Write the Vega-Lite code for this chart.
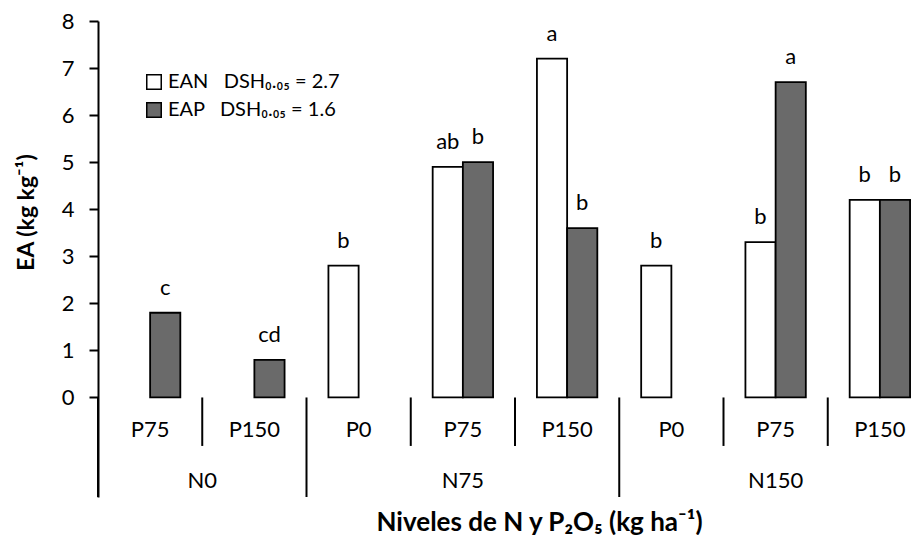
{
  "$schema": "https://vega.github.io/schema/vega-lite/v6.json",
  "autosize": {"type": "none"},
  "padding": {"left": 98, "top": 21, "right": 0, "bottom": 38},
  "width": 824,
  "height": 476,
  "background": "white",
  "config": {
    "view": {"stroke": null},
    "font": "Lato",
    "text": {"font": "Lato", "color": "black"}
  },
  "datasets": {
    "barras": [
      {"grupo": "N0-P75", "serie": "EAP", "valor": 1.8, "letra": "c"},
      {"grupo": "N0-P150", "serie": "EAP", "valor": 0.8, "letra": "cd"},
      {"grupo": "N75-P0", "serie": "EAN", "valor": 2.8, "letra": "b"},
      {"grupo": "N75-P75", "serie": "EAN", "valor": 4.9, "letra": "ab"},
      {"grupo": "N75-P75", "serie": "EAP", "valor": 5.0, "letra": "b"},
      {"grupo": "N75-P150", "serie": "EAN", "valor": 7.2, "letra": "a"},
      {"grupo": "N75-P150", "serie": "EAP", "valor": 3.6, "letra": "b"},
      {"grupo": "N150-P0", "serie": "EAN", "valor": 2.8, "letra": "b"},
      {"grupo": "N150-P75", "serie": "EAN", "valor": 3.3, "letra": "b"},
      {"grupo": "N150-P75", "serie": "EAP", "valor": 6.7, "letra": "a"},
      {"grupo": "N150-P150", "serie": "EAN", "valor": 4.2, "letra": "b"},
      {"grupo": "N150-P150", "serie": "EAP", "valor": 4.2, "letra": "b"}
    ],
    "grupos": [
      {"grupo": "N0-P75", "N": "N0", "P": "P75", "inicioN": true},
      {"grupo": "N0-P150", "N": "N0", "P": "P150", "inicioN": false},
      {"grupo": "N75-P0", "N": "N75", "P": "P0", "inicioN": true},
      {"grupo": "N75-P75", "N": "N75", "P": "P75", "inicioN": false},
      {"grupo": "N75-P150", "N": "N75", "P": "P150", "inicioN": false},
      {"grupo": "N150-P0", "N": "N150", "P": "P0", "inicioN": true},
      {"grupo": "N150-P75", "N": "N150", "P": "P75", "inicioN": false},
      {"grupo": "N150-P150", "N": "N150", "P": "P150", "inicioN": false}
    ],
    "etiquetasN": [
      {"N": "N0", "grupo": "N0-P150", "borde": true},
      {"N": "N75", "grupo": "N75-P75", "borde": false},
      {"N": "N150", "grupo": "N150-P75", "borde": false}
    ]
  },
  "layer": [
    {
      "data": {"name": "barras"},
      "mark": {"type": "bar", "stroke": "black", "strokeWidth": 1.8},
      "encoding": {
        "x": {
          "field": "grupo", "type": "nominal",
          "scale": {"type": "band", "domain": ["N0-P75", "N0-P150", "N75-P0", "N75-P75", "N75-P150", "N150-P0", "N150-P75", "N150-P150"], "range": [0, 834], "paddingInner": 0, "paddingOuter": 0},
          "axis": {"labels": false, "ticks": false, "domain": false, "title": "Niveles de N y P₂O₅ (kg ha⁻¹)", "titleX": 441, "titleY": 25, "titleBaseline": "middle", "titleFont": "Lato", "titleFontSize": 26, "titleFontWeight": "bold", "titleColor": "black"}
        },
        "xOffset": {
          "field": "serie", "type": "nominal",
          "scale": {"domain": ["EAN", "EAP"], "paddingInner": 0, "paddingOuter": 0.726}
        },
        "y": {
          "field": "valor", "type": "quantitative",
          "scale": {"domain": [-2.115, 8], "nice": false, "zero": false},
          "axis": {"values": [0, 1, 2, 3, 4, 5, 6, 7, 8], "grid": false, "tickSize": 9, "tickWidth": 2, "tickColor": "black", "domainColor": "black", "domainWidth": 2, "labelPadding": 15, "labelFont": "Lato", "labelFontSize": 22, "labelColor": "black", "title": "EA (kg kg⁻¹)", "titleX": -72, "titleY": 191, "titleBaseline": "middle", "titleAlign": "center", "titleFont": "Lato", "titleFontSize": 23, "titleFontWeight": "bold", "titleColor": "black"}
        },
        "fill": {
          "field": "serie", "type": "nominal",
          "scale": {"domain": ["EAN", "EAP"], "range": ["white", "#6a6a6a"]},
          "legend": {
            "orient": "none", "legendX": 46, "legendY": 51, "title": null, "padding": 0,
            "symbolType": "square", "symbolSize": 210, "symbolStrokeColor": "black", "symbolStrokeWidth": 1.5,
            "labelFont": "Lato", "labelFontSize": 20, "labelColor": "black", "labelOffset": 4, "rowPadding": 6, "labelLimit": 0,
            "labelExpr": "datum.label == 'EAN' ? 'EAN\u00a0\u00a0 DSH₀.₀₅ = 2.7' : 'EAP\u00a0\u00a0 DSH₀.₀₅ = 1.6'"
          }
        }
      }
    },
    {
      "data": {"name": "barras"},
      "mark": {"type": "text", "baseline": "alphabetic", "dy": -18, "fontSize": 22},
      "encoding": {
        "x": {"field": "grupo", "type": "nominal"},
        "xOffset": {"field": "serie", "type": "nominal"},
        "y": {"field": "valor", "type": "quantitative"},
        "text": {"field": "letra"}
      }
    },
    {
      "mark": {"type": "rule", "color": "black", "strokeWidth": 2},
      "encoding": {"y": {"datum": 0}}
    },
    {
      "data": {"name": "grupos"},
      "transform": [{"filter": "!datum.inicioN"}],
      "mark": {"type": "rule", "color": "black", "strokeWidth": 2},
      "encoding": {
        "x": {"field": "grupo", "type": "nominal", "bandPosition": 0},
        "y": {"datum": 0},
        "y2": {"datum": -1.03}
      }
    },
    {
      "data": {"name": "grupos"},
      "transform": [{"filter": "datum.inicioN"}],
      "mark": {"type": "rule", "color": "black", "strokeWidth": 2},
      "encoding": {
        "x": {"field": "grupo", "type": "nominal", "bandPosition": 0},
        "y": {"datum": 0},
        "y2": {"datum": -2.115}
      }
    },
    {
      "data": {"name": "grupos"},
      "mark": {"type": "text", "baseline": "middle", "fontSize": 22},
      "encoding": {
        "x": {"field": "grupo", "type": "nominal"},
        "y": {"datum": -0.684},
        "text": {"field": "P"}
      }
    },
    {
      "data": {"name": "etiquetasN"},
      "transform": [{"filter": "datum.borde"}],
      "mark": {"type": "text", "baseline": "middle", "fontSize": 22},
      "encoding": {
        "x": {"field": "grupo", "type": "nominal", "bandPosition": 0},
        "y": {"datum": -1.77},
        "text": {"field": "N"}
      }
    },
    {
      "data": {"name": "etiquetasN"},
      "transform": [{"filter": "!datum.borde"}],
      "mark": {"type": "text", "baseline": "middle", "fontSize": 22},
      "encoding": {
        "x": {"field": "grupo", "type": "nominal"},
        "y": {"datum": -1.77},
        "text": {"field": "N"}
      }
    }
  ]
}
